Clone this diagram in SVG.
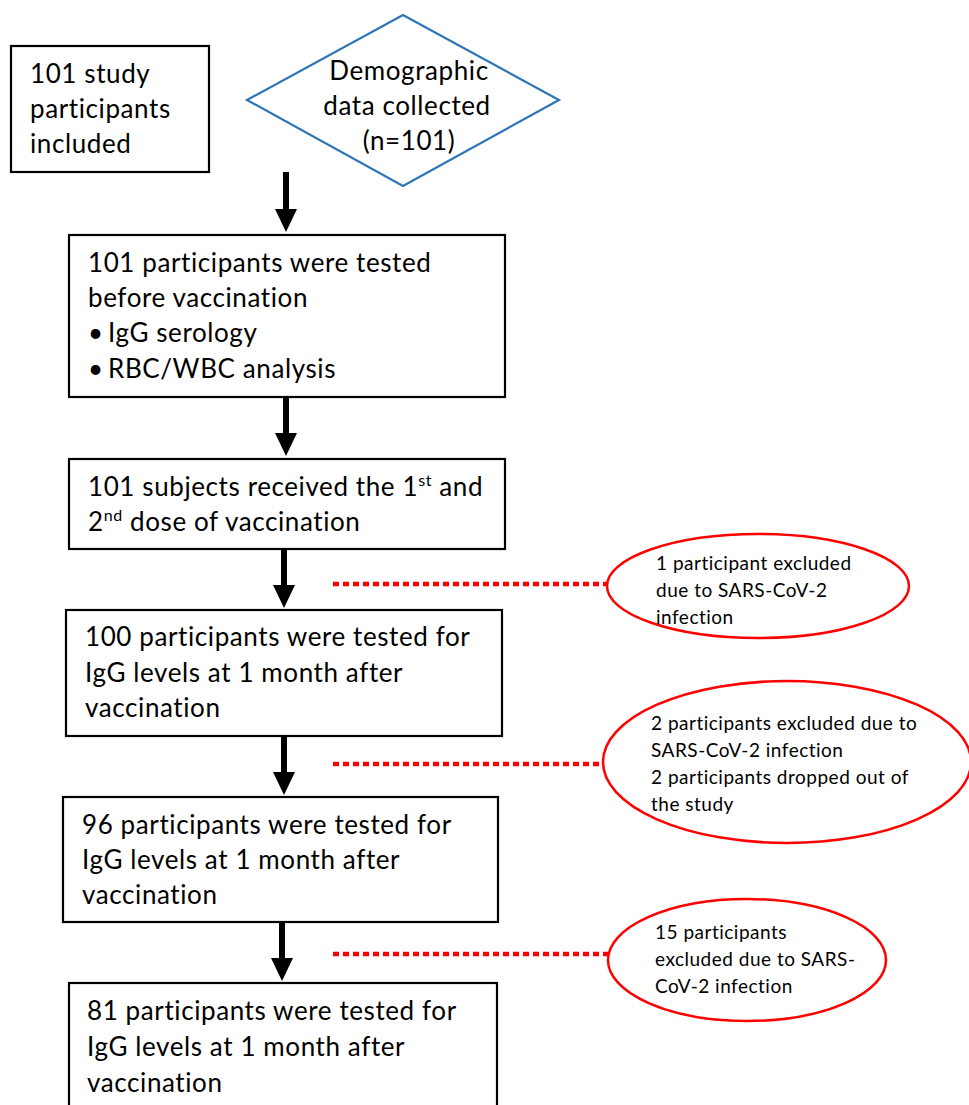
<svg xmlns="http://www.w3.org/2000/svg" width="969" height="1105" viewBox="0 0 969 1105">
<defs>
<style>
.box{fill:#fff;stroke:#000;stroke-width:2.2}
.dia{fill:#fff;stroke:#2E75B6;stroke-width:2.2}
.ell{fill:#fff;stroke:#FF0000;stroke-width:2.5}
.t{font-family:Lato,"Liberation Sans",sans-serif;font-size:26px;letter-spacing:0.6px;fill:#000}
.s{font-family:Lato,"Liberation Sans",sans-serif;font-size:19px;letter-spacing:0.5px;fill:#000}
.sup{font-size:16px}
.arr{stroke:#000;stroke-width:6;fill:none}
.dot{stroke:#FF0000;stroke-width:4.5;stroke-dasharray:6 4;fill:none}
</style>
</defs>
<rect width="969" height="1105" fill="#fff"/>
<g id="connectors">
<path d="M286,172 V210" class="arr"/><path d="M275,209 H297 L286,232 Z"/>
<path d="M286,397 V434" class="arr"/><path d="M275,433 H297 L286,456 Z"/>
<path d="M284,549 V586" class="arr"/><path d="M273,585 H295 L284,608 Z"/>
<path d="M284,736 V773" class="arr"/><path d="M273,772 H295 L284,795 Z"/>
<path d="M282,922 V959" class="arr"/><path d="M271,958 H293 L282,981 Z"/>
<path d="M333,584 H607" class="dot"/>
<path d="M333,764 H603" class="dot"/>
<path d="M333,954 H608" class="dot"/>
</g>
<g id="n1">
<rect x="11" y="46" width="198" height="126" class="box"/>
<text class="t"><tspan x="30" y="83">101 study</tspan><tspan x="30" y="118">participants</tspan><tspan x="30" y="153">included</tspan></text>
</g>
<g id="n2">
<path d="M247,100 L403,15 L559,100 L403,186 Z" class="dia"/>
<text class="t" text-anchor="middle"><tspan x="409" y="80">Demographic</tspan><tspan x="407" y="115">data collected</tspan><tspan x="409" y="150">(n=101)</tspan></text>
</g>
<g id="n3">
<rect x="69" y="235" width="436" height="162" class="box"/>
<text class="t"><tspan x="88" y="272">101 participants were tested</tspan><tspan x="88" y="307">before vaccination</tspan></text>
<text class="t"><tspan x="88" y="342">•</tspan><tspan x="108" y="342">IgG serology</tspan><tspan x="88" y="378">•</tspan><tspan x="108" y="378">RBC/WBC analysis</tspan></text>
</g>
<g id="n4">
<rect x="69" y="459" width="436" height="90" class="box"/>
<text class="t"><tspan x="88" y="496">101 subjects received the 1</tspan><tspan class="sup" dy="-10">st</tspan><tspan dy="10"> and</tspan></text>
<text class="t"><tspan x="88" y="531">2</tspan><tspan class="sup" dy="-10">nd</tspan><tspan dy="10"> dose of vaccination</tspan></text>
</g>
<g id="n5">
<rect x="66" y="610" width="436" height="126" class="box"/>
<text class="t"><tspan x="85" y="646">100 participants were tested for</tspan><tspan x="85" y="682">IgG levels at 1 month after</tspan><tspan x="85" y="717">vaccination</tspan></text>
</g>
<g id="n6">
<rect x="63" y="797" width="435" height="125" class="box"/>
<text class="t"><tspan x="82" y="834">96 participants were tested for</tspan><tspan x="82" y="869">IgG levels at 1 month after</tspan><tspan x="82" y="904">vaccination</tspan></text>
</g>
<g id="n7">
<rect x="69" y="983" width="428" height="130" class="box"/>
<text class="t"><tspan x="87" y="1020">81 participants were tested for</tspan><tspan x="87" y="1056">IgG levels at 1 month after</tspan><tspan x="87" y="1092">vaccination</tspan></text>
</g>
<g id="e1">
<ellipse cx="758" cy="586" rx="151" ry="52" class="ell"/>
<text class="s"><tspan x="656" y="570">1 participant excluded</tspan><tspan x="656" y="597">due to SARS-CoV-2</tspan><tspan x="656" y="624">infection</tspan></text>
</g>
<g id="e2">
<ellipse cx="787" cy="762" rx="184" ry="81" class="ell"/>
<text class="s"><tspan x="651" y="730">2 participants excluded due to</tspan><tspan x="651" y="757">SARS-CoV-2 infection</tspan><tspan x="651" y="784">2 participants dropped out of</tspan><tspan x="651" y="811">the study</tspan></text>
</g>
<g id="e3">
<ellipse cx="747" cy="960" rx="139" ry="61" class="ell"/>
<text class="s"><tspan x="655" y="939">15 participants</tspan><tspan x="655" y="966">excluded due to SARS-</tspan><tspan x="655" y="993">CoV-2 infection</tspan></text>
</g>
</svg>
